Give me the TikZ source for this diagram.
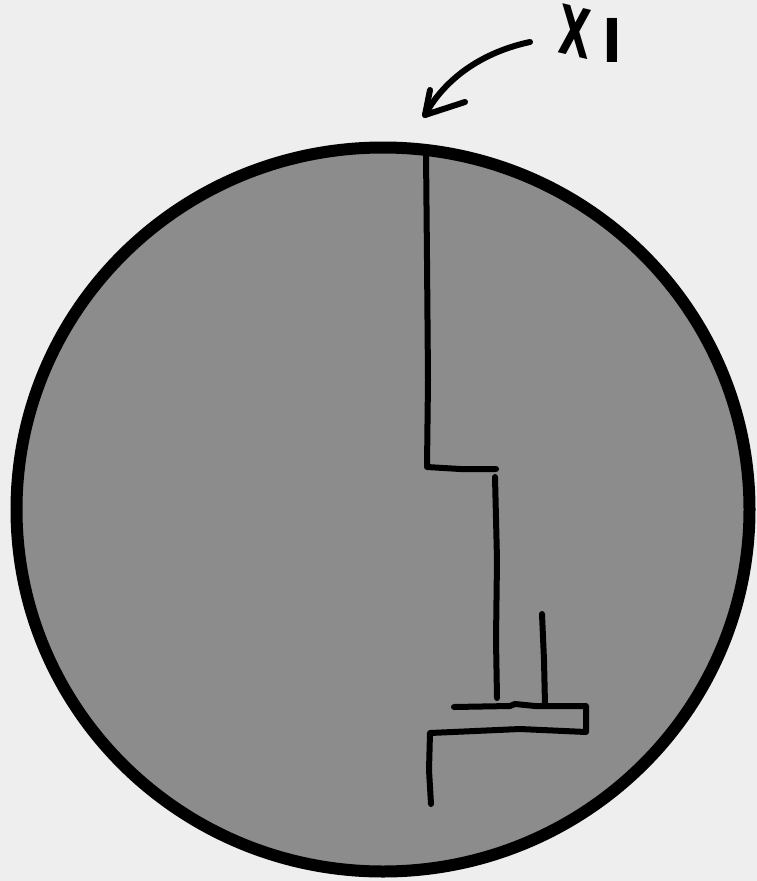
\documentclass[tikz,border=0pt]{standalone}
\usepackage{fontspec}
\setmainfont{DejaVu Sans}
\begin{document}
\begin{tikzpicture}[x=1pt,y=-1pt,
  ink/.style={draw=black,line width=6pt,line cap=round,line join=round},
  rim/.style={draw=black,line width=12pt,fill=discfill}]
\definecolor{bgcol}{HTML}{EEEEEE}
\definecolor{discfill}{HTML}{8C8C8C}
\fill[bgcol] (0,0) rectangle (757,881);
\useasboundingbox (0,0) rectangle (757,881);
% disc
\draw[rim] (383,509.5) ellipse [x radius=366.5, y radius=362];
% cut line
\draw[ink] (426,152) -- (427,260) -- (428,380) -- (427,467) -- (460,469) -- (496,469);
\draw[ink] (495,477) -- (497,560) -- (496,640) -- (497,698);
\draw[ink] (454,707) -- (510,706) -- (515,704) -- (535,706) -- (586,706) -- (586,732) -- (520,729) -- (430,733) -- (429,770) -- (431,804);
\draw[ink] (542,614) -- (544,660) -- (545,705);
% label and arrow
\node[font=\bfseries\fontsize{68}{68}\selectfont, xscale=0.6, rotate=-8, inner sep=0pt] (lblx) at (575,32) {X};
\node[font=\bfseries\fontsize{58}{58}\selectfont, inner sep=0pt, anchor=base] (lbl1) at (612,62) {l};
\coordinate (tip) at (425,115);
\draw[ink] (530,42) .. controls (483,52) and (445,78) .. (tip);
\draw[ink] (430,90) -- (tip) -- (465,102);
\end{tikzpicture}
\end{document}
